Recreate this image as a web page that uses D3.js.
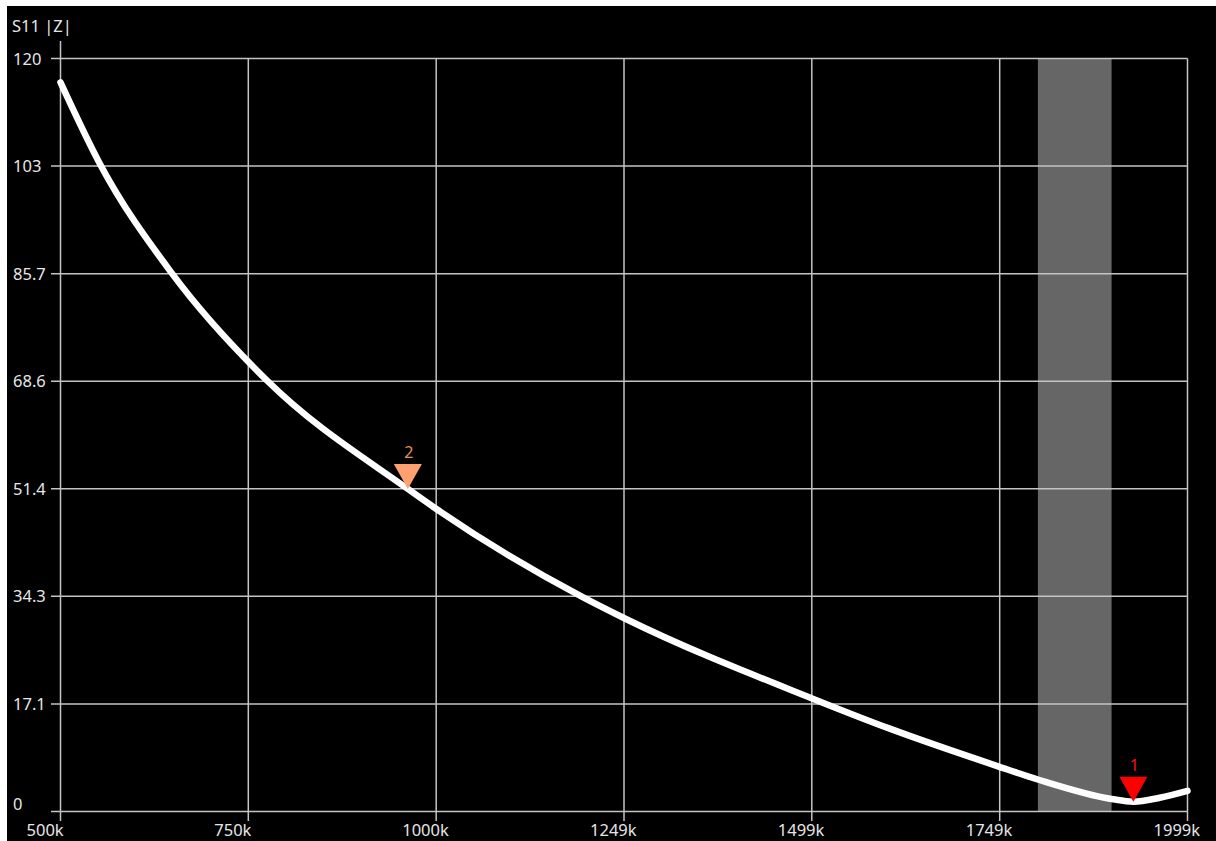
<!DOCTYPE html>
<html>
<head>
<meta charset="utf-8">
<script src="https://cdn.jsdelivr.net/npm/d3@7"></script>
<style>
html,body{margin:0;padding:0;background:#fff;}
svg{display:block;}
</style>
</head>
<body>
<svg id="chart" width="1216" height="841"></svg>
<script>
// ---- data (frequency in kHz, |Z| in ohms) ----
const traceFreq = [500, 552.5, 648, 775, 962, 1000, 1194, 1250, 1498, 1603, 1747, 1800, 1898, 1927, 1962, 1999];
const traceZ    = [116.2, 103.2, 85.8, 68.65, 51.4, 48.2, 34.2, 30.8, 18.1, 13.2, 7.2, 5.1, 2.0, 1.56, 2.2, 3.3];
const xTicks = [500, 749.8, 999.7, 1249.5, 1499.3, 1749.2, 1999];
const xTickLabels = ["500k", "750k", "1000k", "1249k", "1499k", "1749k", "1999k"];
const yTicks = [0, 17.14, 34.29, 51.43, 68.57, 85.71, 102.86, 120];
const yTickLabels = ["0", "17.1", "34.3", "51.4", "68.6", "85.7", "103", "120"];
const bandRange = [1800, 1898];
const markerNames = ["1", "2"];
const markerFreq = [1927, 962];
const markerZ = [1.56, 51.4];
const markerColors = ["#ff0000", "#ffa070"];
const markerLabelColors = ["#ff1010", "#e8905a"];
const titleText = "S11 |Z|";

const svg = d3.select("#chart");
const font = "'Noto Sans', 'DejaVu Sans', sans-serif";

// background: white frame top/left, black panel
svg.append("rect").attr("x", 0).attr("y", 0).attr("width", 1216).attr("height", 841).attr("fill", "#ffffff");
svg.append("rect").attr("x", 7).attr("y", 6).attr("width", 1209).attr("height", 835).attr("fill", "#000000");

const x = d3.scaleLinear().domain([500, 1999]).range([60.5, 1187.5]);
const y = d3.scaleLinear().domain([0, 120]).range([811.5, 58.5]);

// band
svg.append("rect")
  .attr("x", x(bandRange[0])).attr("y", y(120))
  .attr("width", x(bandRange[1]) - x(bandRange[0]))
  .attr("height", y(0) - y(120))
  .attr("fill", "#666666");

const gridColor = "#c4c4c4";
// horizontal grid lines
svg.append("g").selectAll("line").data(yTicks).join("line")
  .attr("x1", 51).attr("x2", x(1999))
  .attr("y1", d => y(d)).attr("y2", d => y(d))
  .attr("stroke", gridColor).attr("stroke-width", 1.5);
// vertical grid lines
svg.append("g").selectAll("line").data(xTicks).join("line")
  .attr("x1", d => x(d)).attr("x2", d => x(d))
  .attr("y1", (d, i) => i === 0 ? 41 : y(120)).attr("y2", 821)
  .attr("stroke", gridColor).attr("stroke-width", 1.5);

const textColor = "#e6e6e6";
// y labels
svg.append("g").selectAll("text").data(yTicks).join("text")
  .attr("x", 13)
  .attr("y", (d, i) => i === 0 ? y(d) - 1.5 : y(d) + 6)
  .attr("fill", textColor).attr("font-family", font).attr("font-size", 16.5)
  .text((d, i) => yTickLabels[i]);
// x labels
svg.append("g").selectAll("text").data(xTicks).join("text")
  .attr("x", d => x(d) - 34)
  .attr("y", 836)
  .attr("fill", textColor).attr("font-family", font).attr("font-size", 16.5)
  .text((d, i) => xTickLabels[i]);
// title
svg.append("text").attr("x", 12).attr("y", 32)
  .attr("fill", textColor).attr("font-family", font).attr("font-size", 16.5)
  .text(titleText);

// trace
const pts = traceFreq.map((f, i) => [f, traceZ[i]]);
const line = d3.line().x(d => x(d[0])).y(d => y(d[1])).curve(d3.curveMonotoneX);
svg.append("path").datum(pts).attr("d", line)
  .attr("fill", "none").attr("stroke", "#ffffff").attr("stroke-width", 6.5)
  .attr("stroke-linecap", "round").attr("stroke-linejoin", "round");

// markers
const mk = svg.append("g");
markerFreq.forEach((f, i) => {
  const tx = x(f), ty = y(markerZ[i]);
  mk.append("path")
    .attr("d", `M${tx},${ty} L${tx - 14},${ty - 25} L${tx + 14},${ty - 25} Z`)
    .attr("fill", markerColors[i]);
  mk.append("text")
    .attr("x", tx + 1).attr("y", ty - 30.5)
    .attr("text-anchor", "middle")
    .attr("fill", markerLabelColors[i]).attr("font-family", font).attr("font-size", 16)
    .text(markerNames[i]);
});
</script>
</body>
</html>
